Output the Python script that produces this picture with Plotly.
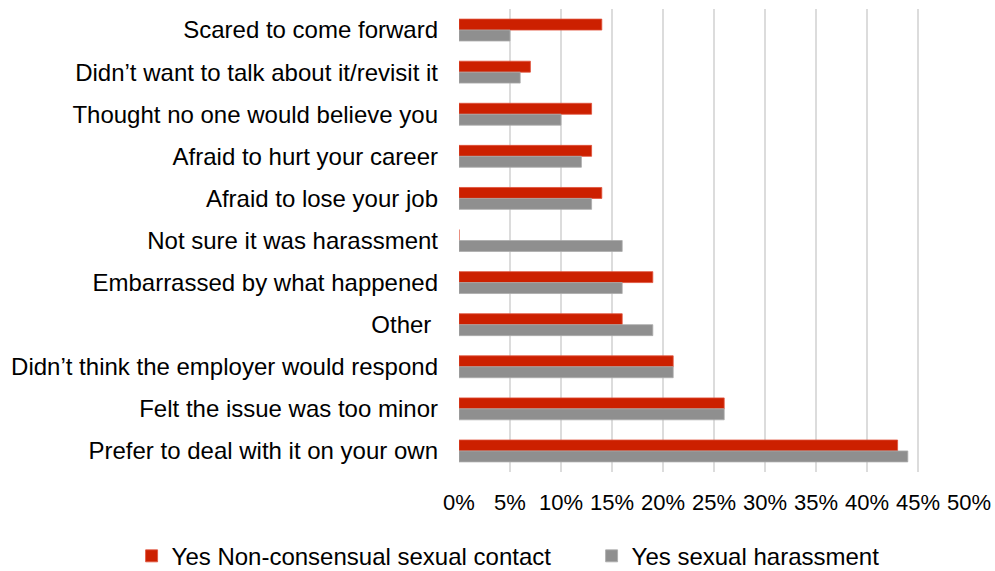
import plotly.graph_objects as go

categories = [
    "Scared to come forward",
    "Didn’t want to talk about it/revisit it",
    "Thought no one would believe you",
    "Afraid to hurt your career",
    "Afraid to lose your job",
    "Not sure it was harassment",
    "Embarrassed by what happened",
    "Other\u00a0",
    "Didn’t think the employer would respond",
    "Felt the issue was too minor",
    "Prefer to deal with it on your own",
]
contact = [14, 7, 13, 13, 14, 0, 19, 16, 21, 26, 43]
harassment = [5, 6, 10, 12, 13, 16, 16, 19, 21, 26, 44]
series_names = ["Yes Non-consensual sexual contact", "Yes sexual harassment"]
tick_vals = [0, 5, 10, 15, 20, 25, 30, 35, 40, 45, 50]
tick_text = [f"{v}%" for v in tick_vals]

fig = go.Figure()
fig.add_trace(go.Bar(
    y=categories, x=contact, name=series_names[0], orientation="h",
    marker=dict(color="#CC2000", line=dict(color="#E0503A", width=0.8)),
))
fig.add_trace(go.Bar(
    y=categories, x=harassment, name=series_names[1], orientation="h",
    marker=dict(color="#8F8F8F", line=dict(color="#ABABAB", width=0.8)),
))

font = "Liberation Sans, Arial, sans-serif"
fig.update_layout(
    width=995, height=571,
    margin=dict(l=459, r=26, t=9, b=99, autoexpand=False),
    paper_bgcolor="white", plot_bgcolor="white",
    barmode="group", bargap=0.48, bargroupgap=0,
    font=dict(family=font, size=24, color="#000000"),
    showlegend=True,
    legend=dict(orientation="h", x=-0.642, xanchor="left", xref="paper",
                y=-0.182, yanchor="middle", yref="paper", font=dict(size=24),
                itemwidth=30, traceorder="normal",
                entrywidth=415, entrywidthmode="pixels"),
    xaxis=dict(range=[0, 50], tickvals=tick_vals, ticktext=tick_text,
               showgrid=True, gridcolor="#DCDCDC", gridwidth=2,
               zeroline=False, showline=False, ticks="",
               ticklabelstandoff=15, tickfont=dict(size=22)),
    yaxis=dict(autorange="reversed", showgrid=False, showline=False, ticks="",
               ticklabelstandoff=20, tickfont=dict(size=24)),
)

fig.write_html("out.html")
